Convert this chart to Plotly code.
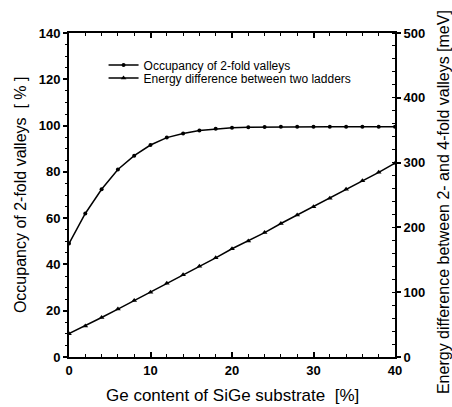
import plotly.graph_objects as go

ge_content = [0, 2, 4, 6, 8, 10, 12, 14, 16, 18, 20, 22, 24, 26, 28, 30, 32, 34, 36, 38, 40]
occupancy = [49, 62, 72.5, 81, 87, 91.6, 94.8, 96.6, 97.9, 98.6, 99.1, 99.3, 99.4, 99.5,
             99.5, 99.5, 99.5, 99.5, 99.5, 99.5, 99.5]
energy_diff = [36, 48, 61, 74, 87, 100, 114, 127, 140, 153, 167, 179, 192, 206, 219,
               232, 245, 259, 272, 285, 299]

FONT = "Liberation Sans, Arial, sans-serif"

fig = go.Figure()
fig.add_trace(go.Scatter(
    x=ge_content, y=occupancy, name="Occupancy of 2-fold valleys",
    mode="lines+markers", line=dict(color="black", width=1.5),
    marker=dict(symbol="circle", size=4, color="black"), yaxis="y", legend="legend"))
fig.add_trace(go.Scatter(
    x=ge_content, y=energy_diff, name="Energy difference between two ladders",
    mode="lines+markers", line=dict(color="black", width=1.5),
    marker=dict(symbol="triangle-up", size=5, color="black"), yaxis="y2", legend="legend2"))

tickfont = dict(family=FONT, size=13, color="black", weight="bold")
legfont = dict(family=FONT, size=12, color="black")

fig.update_layout(
    width=452, height=407,
    margin=dict(l=69, r=57, t=33, b=50),
    paper_bgcolor="white", plot_bgcolor="white",
    showlegend=True,
    legend=dict(x=0.106, y=0.901, xanchor="left", yanchor="middle",
                bgcolor="rgba(0,0,0,0)", borderwidth=0, font=legfont),
    legend2=dict(x=0.106, y=0.861, xanchor="left", yanchor="middle",
                 bgcolor="rgba(0,0,0,0)", borderwidth=0, font=legfont),
    xaxis=dict(range=[0, 40], tickvals=[0, 10, 20, 30, 40], showgrid=False, zeroline=False,
               showline=True, linewidth=2, linecolor="black", mirror="ticks",
               ticks="inside", ticklen=5, tickwidth=1.5, tickcolor="black",
               minor=dict(dtick=2, ticks="inside", ticklen=3, tickwidth=1, tickcolor="black"),
               tickfont=tickfont),
    yaxis=dict(range=[0, 140], tickvals=[0, 20, 40, 60, 80, 100, 120, 140], showgrid=False,
               zeroline=False, showline=True, linewidth=2, linecolor="black",
               ticks="outside", ticklen=4, tickwidth=1.5, tickcolor="black",
               minor=dict(dtick=5, ticks="outside", ticklen=2, tickwidth=1, tickcolor="black"),
               tickfont=tickfont),
    yaxis2=dict(range=[0, 500], tickvals=[0, 100, 200, 300, 400, 500], overlaying="y",
                side="right", showgrid=False, zeroline=False, showline=True, linewidth=2,
                linecolor="black", ticks="outside", ticklen=4, tickwidth=1.5,
                tickcolor="black",
                minor=dict(dtick=20, ticks="inside", ticklen=3, tickwidth=1, tickcolor="black"),
                tickfont=tickfont),
    annotations=[
        dict(text="Ge content of SiGe substrate  [%]", xref="paper", yref="paper",
             x=0.5, y=-0.12, xanchor="center", yanchor="middle", showarrow=False,
             font=dict(family=FONT, size=17, color="black")),
        dict(text="Occupancy of 2-fold valleys  [ % ]", xref="paper", yref="paper",
             x=-0.15, y=0.5, xanchor="center", yanchor="middle", showarrow=False,
             textangle=-90, font=dict(family=FONT, size=16, color="black")),
        dict(text="Energy difference between 2- and 4-fold valleys [meV]", xref="paper",
             yref="paper", x=1.147, y=0.478, xanchor="center", yanchor="middle",
             showarrow=False, textangle=-90, font=dict(family=FONT, size=16, color="black")),
    ],
)

fig.write_html("out.html")
